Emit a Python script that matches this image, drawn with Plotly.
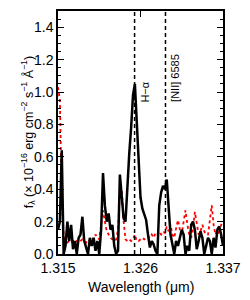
import numpy as np
import plotly.graph_objects as go

# spectrum sampled on a regular pixel grid (µm)
wl_start = 1.315
wl_step = 0.00025
flux = [0.15, 0.20, 0.64, 0.00, 0.05, 0.20, 0.08, 0.18, 0.03, 0.08,
        0.00, 0.10, 0.12, 0.23, 0.08, 0.03, 0.00, 0.10, 0.05, 0.10,
        0.02, 0.08, 0.00, 0.15, 0.50, 0.30, 0.20, 0.25, 0.15, 0.18,
        0.05, 0.00, 0.02, 0.49, 0.35, 0.22, 0.20, 0.45, 0.62, 0.78,
        0.98, 1.05, 0.82, 0.62, 0.35, 0.28, 0.25, 0.21, 0.12, 0.04,
        0.08, 0.06, 0.02, 0.00, 0.30, 0.38, 0.42, 0.40, 0.46, 0.30,
        0.12, 0.06, 0.00, 0.08, 0.05, 0.10, 0.15, 0.12, 0.00, 0.05,
        0.02, 0.18, 0.20, 0.15, 0.03, 0.08, 0.14, 0.10, 0.00, 0.05,
        0.10, 0.08, 0.00, 0.10, 0.04, 0.15, 0.17, 0.12, 0.05]
error = [1.03, 0.95, 0.35, 0.12, 0.08, 0.07, 0.08, 0.07, 0.08, 0.07,
         0.08, 0.07, 0.08, 0.09, 0.08, 0.07, 0.09, 0.08, 0.10, 0.09,
         0.12, 0.10, 0.09, 0.18, 0.27, 0.20, 0.14, 0.12, 0.10, 0.09,
         0.08, 0.09, 0.15, 0.38, 0.40, 0.20, 0.09, 0.08, 0.09, 0.08,
         0.09, 0.12, 0.08, 0.08, 0.09, 0.10, 0.09, 0.10, 0.11, 0.10,
         0.12, 0.10, 0.13, 0.12, 0.14, 0.12, 0.14, 0.13, 0.17, 0.14,
         0.18, 0.12, 0.10, 0.16, 0.21, 0.15, 0.12, 0.20, 0.27, 0.18,
         0.12, 0.10, 0.15, 0.26, 0.20, 0.12, 0.14, 0.18, 0.14, 0.12,
         0.12, 0.20, 0.30, 0.18, 0.12, 0.15, 0.12, 0.18, 0.20]
wavelength = wl_start + wl_step * np.arange(len(flux))

line_names = ["H\u2212\u03b1", "[NII] 6585"]
line_wl = [1.32521, 1.32933]
label_y = [1.00, 1.09]

x_ticks = [1.315, 1.326, 1.337]
x_range = [1.315, 1.337]
y_range = [0.0, 1.5]

font = "Liberation Sans, Arial, sans-serif"

fig = go.Figure()
fig.add_trace(go.Scatter(x=wavelength, y=error, mode="lines",
                         line=dict(color="#ff0000", width=1.8, dash="dot"),
                         showlegend=False))
fig.add_trace(go.Scatter(x=wavelength, y=flux, mode="lines",
                         line=dict(color="black", width=2.5),
                         showlegend=False))

for wl, name, ly in zip(line_wl, line_names, label_y):
    fig.add_shape(type="line", x0=wl, x1=wl, y0=0, y1=1, xref="x", yref="paper",
                  line=dict(color="black", width=1.5, dash="4px,3px"))
    fig.add_annotation(x=wl, y=ly, xref="x", yref="y", text=name,
                       textangle=-90, showarrow=False, xanchor="left",
                       xshift=2, font=dict(size=11, color="black", family=font))

fig.add_annotation(x=-0.25, y=0.5, xref="paper", yref="paper",
                   text="f<sub>\u03bb</sub> (\u00d7 10<sup>\u221216</sup> erg cm<sup>\u22122</sup> s<sup>\u22121</sup> \u00c5<sup>\u22121</sup>)",
                   textangle=-90, showarrow=False,
                   font=dict(size=12.5, color="black", family=font))
fig.add_annotation(x=0.5, y=-0.135, xref="paper", yref="paper",
                   text="Wavelength (\u03bcm)", showarrow=False, yanchor="middle",
                   font=dict(size=14, color="black", family=font))

axis_common = dict(showline=True, linecolor="black", linewidth=1.5, mirror="allticks",
                   ticks="inside", tickcolor="black", showgrid=False, zeroline=False,
                   tickfont=dict(size=14, color="black", family=font))
fig.update_xaxes(range=x_range, tickvals=x_ticks, tickformat=".3f", ticklen=6,
                 **axis_common)
fig.update_yaxes(range=y_range, dtick=0.2, tick0=0, tickformat=".1f", ticklen=6,
                 minor=dict(dtick=0.05, ticks="inside", ticklen=3, tickcolor="black"),
                 **axis_common)

fig.update_layout(width=250, height=300, margin=dict(l=58, r=19, t=9, b=46),
                  plot_bgcolor="white", paper_bgcolor="white",
                  font=dict(family=font, color="black"))
fig.write_html("out.html", config={"displayModeBar": False},
               post_script="document.body.style.margin='0';document.body.style.overflow='hidden';")
